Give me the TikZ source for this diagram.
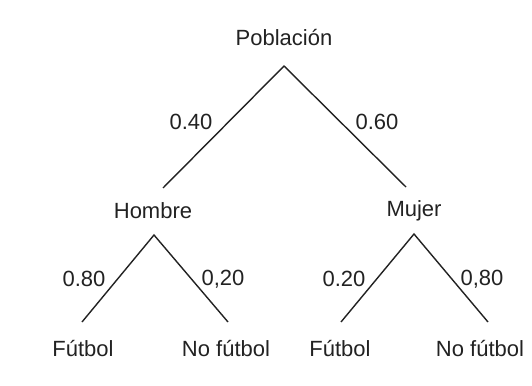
\documentclass[tikz,border=0pt]{standalone}
\usepackage{fontspec}
\setmainfont{Liberation Sans}
\definecolor{ink}{HTML}{222222}
\begin{document}
\begin{tikzpicture}[x=1pt,y=-1pt,
  lbl/.style={font=\fontsize{22}{25}\selectfont, text=ink, inner sep=0pt, anchor=center},
  branch/.style={draw=ink, line width=1.4pt}]
\useasboundingbox[fill=white] (0,0) rectangle (532,385);
% text nodes
\node[lbl] (pob) at (284,38) {Población};
\node[lbl] (hom) at (153,211) {Hombre};
\node[lbl] (muj) at (414,211) {Mujer};
\node[lbl] (f1) at (83,349) {Fútbol};
\node[lbl] (n1) at (226,349) {No fútbol};
\node[lbl] (f2) at (340,349) {Fútbol};
\node[lbl] (n2) at (480,349) {No fútbol};
% probability labels
\node[lbl] (p40) at (191,122) {0.40};
\node[lbl] (p60) at (377,122) {0.60};
\node[lbl] (p80a) at (84,279) {0.80};
\node[lbl] (p20a) at (223,279) {0,20};
\node[lbl] (p20b) at (344,279) {0.20};
\node[lbl] (p80b) at (482,279) {0,80};
% branch points
\coordinate (r0) at (284,66);
\coordinate (rl) at (163,188);
\coordinate (rr) at (406,187);
\coordinate (h0) at (154,235);
\coordinate (hl) at (82,322);
\coordinate (hr) at (228,322);
\coordinate (m0) at (414,234);
\coordinate (ml) at (341,322);
\coordinate (mr) at (488,322);
% branches
\draw[branch] (rl) -- (r0) -- (rr);
\draw[branch] (hl) -- (h0) -- (hr);
\draw[branch] (ml) -- (m0) -- (mr);
\end{tikzpicture}
\end{document}
